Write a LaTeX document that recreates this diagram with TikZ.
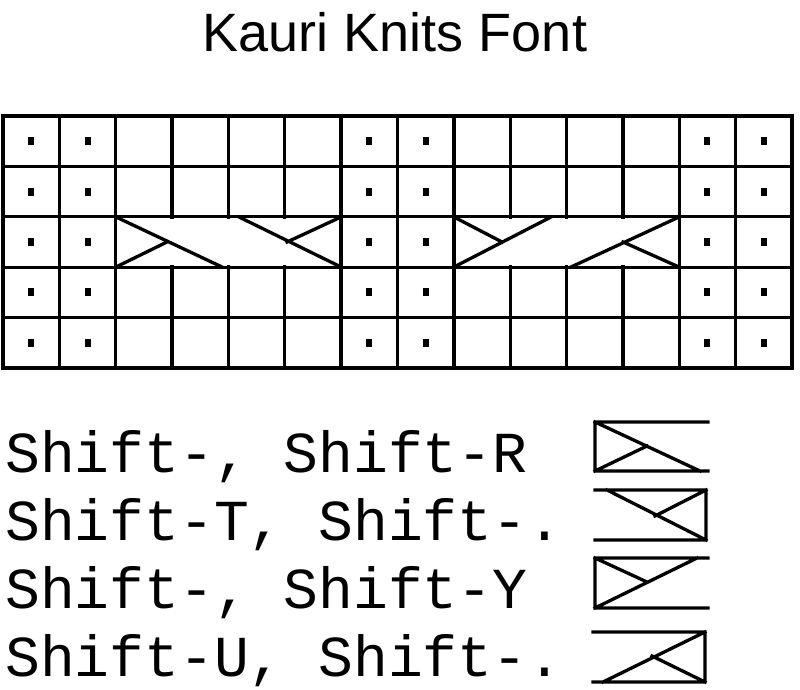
\documentclass[tikz,border=0pt]{standalone}
\usepackage{fontspec}
\setmainfont{Liberation Sans}
\newfontfamily\knitmono{Liberation Mono}
\tikzset{
  knit/.style={line width=3.3pt, line cap=rect},
  purl/.style={fill=black},
  keylabel/.style={anchor=base west, inner sep=0pt, font=\knitmono\fontsize{58}{58}\selectfont},
}
\begin{document}
\begin{tikzpicture}[x=1pt, y=-1pt]
\useasboundingbox (0,0) rectangle (800,690);
\node[font=\fontsize{54}{54}\selectfont] (title) at (395,32) {Kauri Knits Font};
% chart grid
\def\cw{56.357}
\def\rh{50.4}
\foreach \r in {0,...,5}
  \draw[knit] (3,116+\r*\rh) -- (792,116+\r*\rh);
\foreach \c in {0,...,14}
  \draw[knit] (3+\c*\cw,116) -- (3+\c*\cw,368);
% cable row: cover inner lines
\fill[white] (3+2*\cw+2,116+2*\rh+2) rectangle (3+6*\cw-2,116+3*\rh-2);
\fill[white] (3+8*\cw+2,116+2*\rh+2) rectangle (3+12*\cw-2,116+3*\rh-2);
% purl dots
\foreach \c in {0,1,6,7,12,13}
  \foreach \r in {0,...,4}
    \fill[purl] (3+\c*\cw+\cw/2-3,116+\r*\rh+\rh/2-4) rectangle ++(6,8);
% cables
\draw[knit] (116,217) -- (222,267) (116,267) -- (167,242);
\draw[knit] (239,217) -- (341,267) (341,217) -- (287,242);
\draw[knit] (454,217) -- (502,242) (454,267) -- (551,217);
\draw[knit] (571,267) -- (679,217) (679,267) -- (623,242);
% key
\node[keylabel] (k1) at (5,472) {Shift-, Shift-R};
\node[keylabel] (k2) at (5,540) {Shift-T, Shift-.};
\node[keylabel] (k3) at (5,608) {Shift-, Shift-Y};
\node[keylabel] (k4) at (5,676) {Shift-U, Shift-.};
\draw[knit] (708,422) -- (595,422) -- (595,471) -- (708,471) (595,422) -- (700,471) (595,471) -- (647,446);
\draw[knit] (595,490) -- (706,490) -- (706,540) -- (595,540) (607,490) -- (706,540) (706,490) -- (655,516);
\draw[knit] (708,558) -- (595,558) -- (595,608) -- (708,608) (595,558) -- (647,582) (595,608) -- (697,558);
\draw[knit] (593,632) -- (705,632) -- (705,682) -- (593,682) (603,682) -- (705,632) (705,682) -- (652,656);
\end{tikzpicture}
\end{document}
